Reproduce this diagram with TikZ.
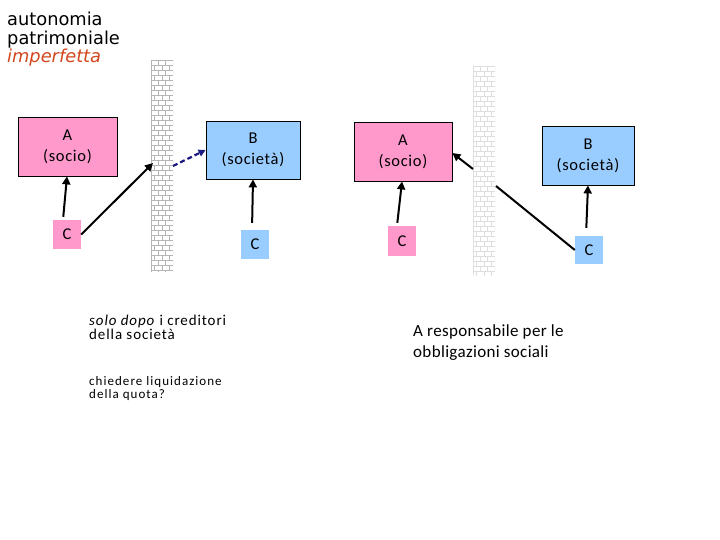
\documentclass[tikz,border=0pt]{standalone}
\usepackage{fontspec}
\setmainfont{Carlito}
\newfontfamily\titlefont{DejaVu Sans}
\usetikzlibrary{arrows.meta}
\definecolor{pinkbox}{HTML}{FF99CC}
\definecolor{bluebox}{HTML}{99CCFF}
\definecolor{titlered}{HTML}{D2461E}
\definecolor{navyarrow}{HTML}{1A1A80}
\definecolor{brickA}{HTML}{B5B5B5}
\definecolor{brickB}{HTML}{DEDEDE}
\newcommand\brickwall[5]{%
  \begin{scope}
  \clip (#1,#2) rectangle (#3,#4);
  \fill[white] (#1,#2) rectangle (#3,#4);
  \foreach \r in {0,...,42} {
    \pgfmathsetmacro\yy{#2+5*\r}
    \pgfmathsetmacro\off{mod(\r,2)*3.7}
    \draw[#5,line width=0.6pt] (#1,\yy) -- (#3,\yy);
    \foreach \k in {0,1,2,3} {
      \draw[#5,line width=0.6pt] ({#1+\off+7.3*\k},\yy) -- ({#1+\off+7.3*\k},\yy+5);
    }
  }
  \draw[#5,line width=1pt] (#1+0.5,#2) -- (#1+0.5,#4);
  \end{scope}}
\tikzset{
  box/.style={draw=black, line width=0.8pt, inner sep=0pt, align=center,
    font=\fontsize{16.5}{21}\selectfont\addfontfeature{LetterSpace=4}},
  cbox/.style={inner sep=0pt, font=\fontsize{16.5}{21}\selectfont\addfontfeature{LetterSpace=4}},
  arr/.style={draw=black, line width=2pt, -{Triangle[length=8pt,width=8pt]}},
  plainline/.style={draw=black, line width=2pt},
  dasharr/.style={draw=navyarrow, line width=2.2pt, dash pattern=on 5pt off 3pt, -{Triangle[length=7pt,width=7pt]}},
  ttl/.style={anchor=base west, inner sep=0pt, font=\titlefont\fontsize{17.8}{18.5}\selectfont},
  note/.style={anchor=base west, inner sep=0pt}
}
\begin{document}
\begin{tikzpicture}[x=1pt,y=-1pt]
\useasboundingbox (0,0) rectangle (720,540);
\fill[white] (0,0) rectangle (720,540);

% walls
\brickwall{151}{60}{173}{271}{brickA}
\brickwall{473}{66}{495}{275}{brickB}

% title
\node[ttl] (t1) at (7,26) {autonomia};
\node[ttl] (t2) at (7,44.5) {patrimoniale};
\node[ttl, text=titlered] (t3) at (7,63) {\itshape imperfetta};

% left diagram
\node[box, fill=pinkbox, minimum width=99pt, minimum height=59pt] (A1) at (67.5,146.5) {A\\(socio)};
\node[cbox, fill=pinkbox, minimum width=28pt, minimum height=29pt] (C1) at (67,234.5) {C};
\node[box, fill=bluebox, minimum width=94pt, minimum height=58pt] (B1) at (253,150) {B\\(società)};
\node[cbox, fill=bluebox, minimum width=28pt, minimum height=29pt] (C2) at (255,244.5) {C};

\coordinate (w1a) at (153,163);
\coordinate (w1b) at (173,166);
\draw[arr, shorten <=3pt] ([xshift=-4pt]C1.north) -- ([xshift=-0.5pt]A1.south);
\draw[arr] (C1.east) -- (w1a);
\draw[dasharr] (w1b) -- (B1.west);
\draw[arr, shorten <=7pt] ([xshift=-3pt]C2.north) -- (B1.south);

% right diagram
\node[box, fill=pinkbox, minimum width=98pt, minimum height=59pt] (A2) at (403,151.5) {A\\(socio)};
\node[cbox, fill=pinkbox, minimum width=28pt, minimum height=30pt] (C3) at (402,241) {C};
\node[box, fill=bluebox, minimum width=92pt, minimum height=59pt] (B2) at (588,155.5) {B\\(società)};
\node[cbox, fill=bluebox, minimum width=28pt, minimum height=28pt] (C4) at (589,250) {C};

\coordinate (w2a) at (473,169);
\coordinate (w2b) at (496,186);
\draw[arr, shorten <=3pt] ([xshift=-5pt]C3.north) -- ([xshift=-1pt]A2.south);
\draw[arr] (w2a) -- ([yshift=-1.5pt]A2.east);
\draw[plainline] (w2b) -- (C4.west);
\draw[arr, shorten <=8pt] ([xshift=-3pt]C4.north) -- (B2.south);

% notes
\node[note, font=\fontsize{15}{14}\selectfont\addfontfeature{LetterSpace=6}] (n1a) at (89,325) {\textit{solo dopo} i creditori};
\node[note, font=\fontsize{15}{14}\selectfont\addfontfeature{LetterSpace=6}] (n1b) at (89,339.5) {della società};
\node[note, font=\fontsize{13}{13}\selectfont\addfontfeature{LetterSpace=8}] (n2a) at (89,385) {chiedere liquidazione};
\node[note, font=\fontsize{13}{13}\selectfont\addfontfeature{LetterSpace=8}] (n2b) at (89,398.5) {della quota?};
\node[note, font=\fontsize{17}{21}\selectfont\addfontfeature{LetterSpace=2}] (n3a) at (413,336) {A responsabile per le};
\node[note, font=\fontsize{17}{21}\selectfont\addfontfeature{LetterSpace=2}] (n3b) at (413,357) {obbligazioni sociali};
\end{tikzpicture}
\end{document}
